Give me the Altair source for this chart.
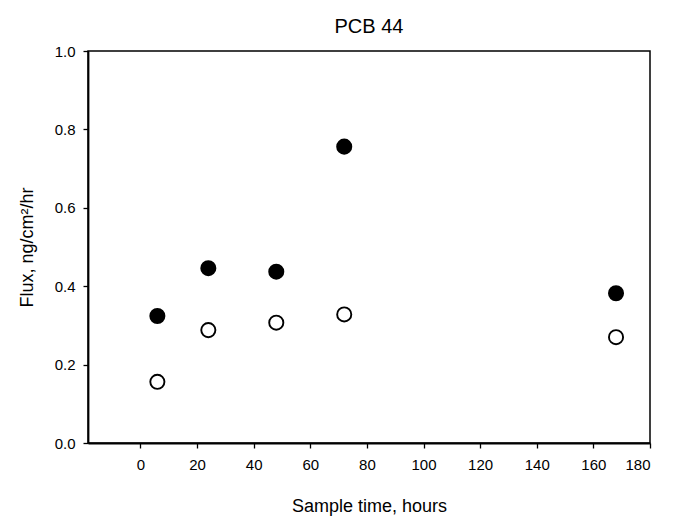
import altair as alt
import pandas as pd

hours = [6, 24, 48, 72, 168]
flux_filled = [0.324, 0.446, 0.437, 0.756, 0.382]
flux_open = [0.156, 0.288, 0.307, 0.328, 0.270]
series_names = ["filled", "open"]

rows = []
for h, v in zip(hours, flux_filled):
    rows.append({"hours": h, "flux": v, "series": series_names[0]})
for h, v in zip(hours, flux_open):
    rows.append({"hours": h, "flux": v, "series": series_names[1]})
df = pd.DataFrame(rows)

FONT = "Liberation Sans"

chart = (
    alt.Chart(df)
    .mark_point(filled=True, size=200, stroke="black", strokeWidth=1.9, opacity=1)
    .encode(
        x=alt.X(
            "hours:Q",
            scale=alt.Scale(domain=[-18.5, 180], nice=False, zero=False),
            axis=alt.Axis(
                values=[0, 20, 40, 60, 80, 100, 120, 140, 160, 180],
                title="Sample time, hours",
                titlePadding=25,
                labelPadding=9,
            ),
        ),
        y=alt.Y(
            "flux:Q",
            scale=alt.Scale(domain=[0, 1.0], nice=False),
            axis=alt.Axis(
                values=[0, 0.2, 0.4, 0.6, 0.8, 1.0],
                format=".1f",
                title="Flux, ng/cm²/hr",
                titlePadding=18,
                labelPadding=8,
            ),
        ),
        fill=alt.Fill(
            "series:N",
            scale=alt.Scale(domain=series_names, range=["black", "white"]),
            legend=None,
        ),
    )
    .properties(
        width=562,
        height=392,
        title=alt.TitleParams("PCB 44", fontSize=20, font=FONT, fontWeight="normal", offset=7, color="black"),
        autosize=alt.AutoSizeParams(type="none"),
        padding={"left": 88, "top": 51, "right": 28, "bottom": 77},
    )
    .configure(background="white")
    .configure_view(stroke="black", strokeWidth=1.5)
    .configure_axis(
        grid=False,
        domainColor="black",
        domainWidth=1.8,
        tickColor="black",
        tickWidth=1.3,
        tickSize=5,
        labelFont=FONT,
        labelFontSize=15,
        labelColor="black",
        titleFont=FONT,
        titleFontSize=18,
        titleFontWeight="normal",
        titleColor="black",
    )
)

chart.save("out.html", embed_options={"renderer": "svg", "actions": False})
